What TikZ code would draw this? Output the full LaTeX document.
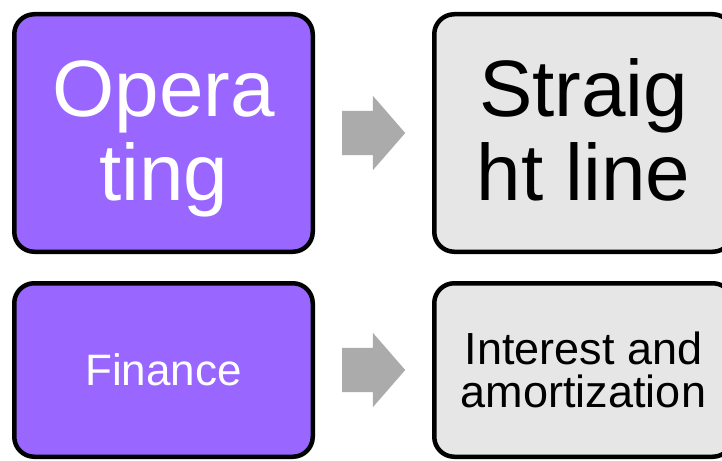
\documentclass[tikz,border=0pt]{standalone}
\usepackage{fontspec}
\setmainfont{Liberation Sans}
\usetikzlibrary{shapes.arrows,calc}
\definecolor{violetfill}{HTML}{9966FF}
\definecolor{panelgray}{HTML}{E6E6E6}
\definecolor{arrowgray}{HTML}{ABABAB}
% invisible struts that fix the height of the first line and depth of the last
\newcommand{\headroom}{\rule{0pt}{67pt}}
\newcommand{\footroom}{\rule[-17pt]{0pt}{17pt}}
\begin{document}
\begin{tikzpicture}[x=1pt,y=-1pt,
  card/.style={draw=black, line width=4.5pt, rounded corners=20pt,
    minimum width=298.5pt, align=center, inner sep=0pt},
  tallcard/.style={card, minimum height=237.5pt},
  shortcard/.style={card, minimum height=173.5pt},
  source/.style={fill=violetfill, text=white},
  target/.style={fill=panelgray, text=black},
  bigtext/.style={font=\fontsize{80}{84}\selectfont},
  flow/.style={single arrow, draw=none, fill=arrowgray, anchor=tail,
    minimum height=63pt, inner xsep=0pt, inner ysep=22pt,
    single arrow head extend=15pt, single arrow tip angle=98,
    single arrow head indent=0pt}]
  \useasboundingbox (0,0) rectangle (722,460);
  \clip (0,0) rectangle (722,460);

  % upper row
  \node (oper) [tallcard, source, bigtext] at (163.5,133) {\headroom Opera\\ting\footroom};
  \node (line) [tallcard, target, bigtext] at (583.5,133) {\headroom Straig\\ht line\footroom};
  \node (a1) [flow] at ($($(oper.east)!0.5!(line.west)$)+(-31.5,0)$) {};

  % lower row
  \node (fin) [shortcard, source, font=\fontsize{44}{46}\selectfont] at (163.5,370) {Finance};
  \node (amort) [shortcard, target, font=\fontsize{45}{43.5}\selectfont] at (583.5,370) {Interest and\\amortization};
  \node (a2) [flow] at ($($(fin.east)!0.5!(amort.west)$)+(-31.5,0)$) {};
\end{tikzpicture}
\end{document}
